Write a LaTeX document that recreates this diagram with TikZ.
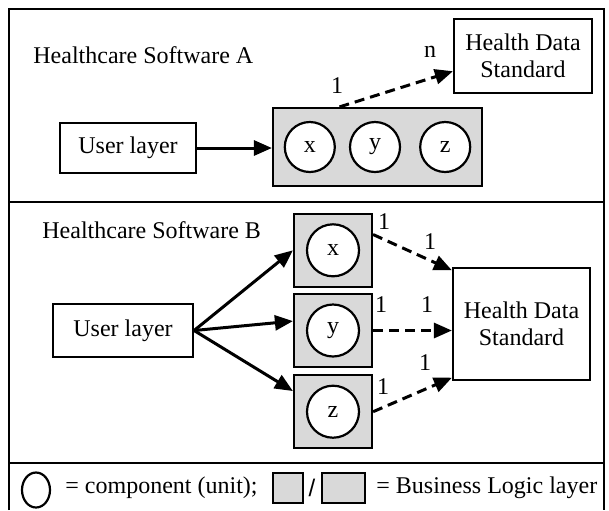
\documentclass[tikz,border=0pt]{standalone}
\usepackage{fontspec}
\setmainfont{Liberation Serif}
\setsansfont{Liberation Sans}
\usetikzlibrary{shapes.geometric, arrows.meta, positioning, calc}

\begin{document}
\begin{tikzpicture}[x=0.5pt, y=-0.5pt, font=\fontsize{12pt}{13.5pt}\selectfont]
% How the boxes, units and arrows look
\tikzstyle{white_box} = [rectangle, draw=black, line width=1.1pt, text centered]
\tikzstyle{logic_box} = [rectangle, draw=black, line width=1.1pt, fill=gray!30]
\tikzstyle{unit} = [circle, draw=black, line width=1.1pt, fill=white, minimum size=25pt, inner sep=0pt]
\tikzstyle{arrow} = [line width=1.5pt, -{Triangle[length=9pt,width=7.5pt]}]
\tikzstyle{dash_arrow} = [arrow, dash pattern=on 5pt off 3pt]
\tikzstyle{mult} = [font=\fontsize{12pt}{13pt}\selectfont, inner sep=0pt]
\useasboundingbox (0,0) rectangle (609,510);

% Frame and dividers
\draw [line width=1.4pt] (9,510) -- (9,9) -- (604,9) -- (604,510);
\draw [line width=1.4pt] (9,202) -- (604,202);
\draw [line width=1.4pt] (9,463) -- (604,463);

% Healthcare Software A
\node (title_a) [anchor=west, inner sep=0pt] at (33,55) {Healthcare Software A};
\node (user_a) [white_box, minimum width=68pt, minimum height=25pt] at (128,148) {User layer};
\node (logic_a) [logic_box, minimum width=104.5pt, minimum height=39pt] at (377.5,147) {};
\node (y_a) [unit] at (375,147) {y};
\node (x_a) [unit, left=6.5pt of y_a] {x};
\node (z_a) [unit, right=9pt of y_a] {z};
\node (std_a) [white_box, minimum width=69pt, minimum height=37pt, align=center] at (523,56) {Health Data\\Standard};

\draw [arrow] (user_a.east) -- (user_a.east -| logic_a.west);
\draw [dash_arrow] ($(logic_a.north west)!0.32!(logic_a.north east)$) -- ($(std_a.west)!0.4!(std_a.south west)$);
\node (one_a) [mult] at (337,86) {1};
\node (n_a) [mult] at (430,52) {n};

% Healthcare Software B
\node (title_b) [anchor=west, inner sep=0pt] at (42,230) {Healthcare Software B};
\node (user_b) [white_box, minimum width=70pt, minimum height=26.5pt] at (123,330.5) {User layer};
\node (logic_by) [logic_box, minimum width=39pt, minimum height=36.5pt] at (333,330.5) {};
\node (logic_bx) [logic_box, minimum width=39pt, minimum height=36.5pt, above=2.5pt of logic_by] {};
\node (logic_bz) [logic_box, minimum width=39pt, minimum height=36.5pt, below=3pt of logic_by] {};
\node (x_b) [unit, minimum size=26pt] at (logic_bx) {x};
\node (y_b) [unit, minimum size=26pt] at (logic_by) {y};
\node (z_b) [unit, minimum size=26pt] at (logic_bz) {z};
\node (std_b) [white_box, minimum width=68.5pt, minimum height=56pt, align=center] at (521.5,324) {Health Data\\Standard};

\draw [arrow] (user_b.east) -- (logic_bx.west);
\draw [arrow] (user_b.east) -- ($(logic_by.west)!0.25!(logic_by.north west)$);
\draw [arrow] (user_b.east) -- ($(logic_bz.west)!0.55!(logic_bz.north west)$);

\draw [dash_arrow] ($(logic_bx.east)!0.42!(logic_bx.north east)$) -- ($(std_b.north west)!0.03!(std_b.south west)$);
\draw [dash_arrow] (logic_by.east) -- (logic_by.east -| std_b.west);
\draw [dash_arrow] (logic_bz.east) -- ($(std_b.south west)!0.03!(std_b.north west)$);

\node (one_bx1) [mult] at (384,222) {1};
\node (one_bx2) [mult] at (430,242) {1};
\node (one_by1) [mult] at (381,305) {1};
\node (one_by2) [mult] at (427,305) {1};
\node (one_bz1) [mult] at (383,387) {1};
\node (one_bz2) [mult] at (425,363) {1};

% Key
\node (unit_key) [ellipse, draw=black, line width=1.1pt, minimum width=14pt, minimum height=17.5pt, inner sep=0pt] at (36,490) {};
\node (unit_text) [anchor=west, inner sep=0pt] at (65,488) {= component (unit);};
\node (logic_key1) [logic_box, minimum width=15pt, minimum height=15pt, inner sep=0pt] at (288,488) {};
\node (slash) [font=\sffamily\fontsize{12pt}{14pt}\selectfont, inner sep=0pt] at (312,488) {/};
\node (logic_key2) [logic_box, minimum width=21.5pt, minimum height=15pt, inner sep=0pt] at (343.5,488) {};
\node (logic_text) [anchor=west, inner sep=0pt] at (376,488) {= Business Logic layer};
\end{tikzpicture}
\end{document}
